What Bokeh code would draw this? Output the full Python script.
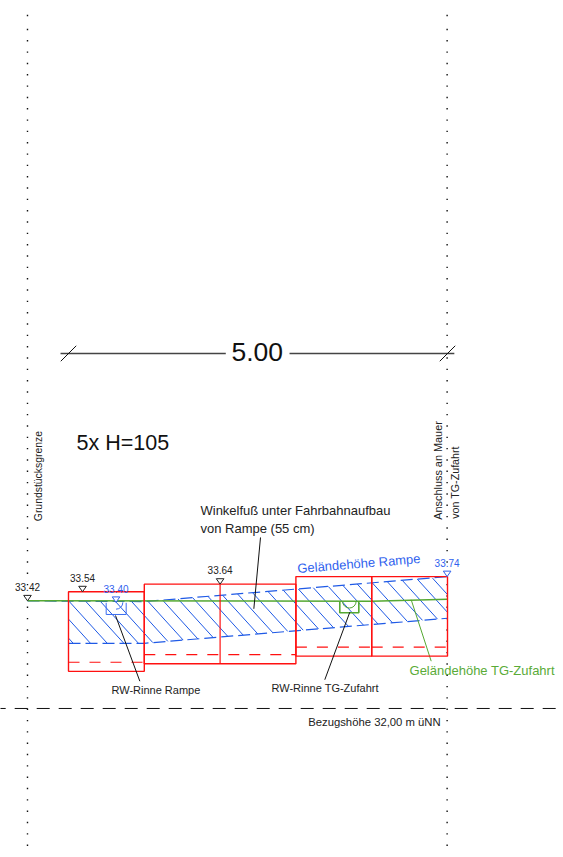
import numpy as np
from bokeh.plotting import figure
from bokeh.models import Range1d, ColumnDataSource
from bokeh.core.properties import value
from bokeh.embed import file_html
from bokeh.resources import INLINE

# --- values: x in metres from the start of the ramp, y in metres of elevation (uNN)
box_left = [0.0, 1.0, 3.0, 4.0]
box_right = [1.0, 3.0, 4.0, 5.0]
box_top = [33.54, 33.64, 33.74, 33.74]
box_bottom = [32.49, 32.59, 32.69, 32.69]
box_dashed = [32.61, 32.71, 32.81, 32.81]
mid_post_x = [2.0, 2.0]
mid_post_y = [33.64, 32.59]

ramp_top_x = [-0.54, 1.0, 5.0]
ramp_top_y = [33.42, 33.41, 33.74]
ramp_bottom_x = [0.0, 1.0, 5.0]
ramp_bottom_y = [32.86, 32.86, 33.19]
access_x = [-0.54, 4.0, 5.0]
access_y = [33.42, 33.415, 33.44]

hatch_feet = [0.062, 0.290, 0.511, 0.730, 0.923, 1.112, 1.310, 1.513, 1.706, 1.909,
              2.102, 2.305, 2.497, 2.695, 2.893, 3.096, 3.298, 3.496, 3.694, 3.892,
              4.083, 4.274, 4.472, 4.670, 4.868, 5.066, 5.264, 5.462]

level_x = [-0.541, 0.185, 0.627, 2.0, 4.995]
level_y = [33.42, 33.54, 33.40, 33.64, 33.74]
level_colors = ["#222222", "#222222", "#2f62ee", "#222222", "#2f62ee"]

grid_x = [-0.541, 4.995]
datum_y = 32.0
dim_y = 36.683
dim_x = [0.0, 5.0]

notes = ["5.00", "5x H=105", "Winkelfuß unter Fahrbahnaufbau", "von Rampe (55 cm)",
         "RW-Rinne Rampe", "RW-Rinne TG-Zufahrt", "Bezugshöhe 32,00 m üNN",
         "Geländehöhe TG-Zufahrt", "Geländehöhe Rampe", "Grundstücksgrenze",
         "Anschluss an Mauer", "von TG-Zufahrt"]
note_x = [2.15, 0.106, 1.741, 1.741, 0.567, 2.678, 3.162, 4.499, 3.025, -0.336, 4.938, 5.158]
note_y = [36.569, 35.394, 34.546, 34.305, 32.185, 32.215, 31.763, 32.435, 33.777, 34.471, 34.489, 34.503]
note_px = [26.5, 21.5, 13, 13, 11, 11, 11.3, 13, 13, 10.4, 10.9, 10.7]
note_angle = [0, 0, 0, 0, 0, 0, 0, 0, 4.7, 90, 90, 90]
note_color = ["#111111", "#111111", "#222222", "#222222", "#222222", "#222222", "#222222",
              "#5aab38", "#2f62ee", "#222222", "#222222", "#222222"]

leader_x0 = [0.620, 2.533, 3.711]
leader_y0 = [33.227, 34.256, 33.27]
leader_x1 = [0.941, 2.445, 3.381]
leader_y1 = [32.36, 33.315, 32.379]

RED = "#ff1010"
BLUE = "#1f5ae6"
GREEN = "#55a832"
BLACK = "#111111"
BASELINE_SHIFT = 0.4  # em

p = figure(width=563, height=857, output_backend="svg", toolbar_location=None,
           x_range=Range1d(-0.8971, 6.5303), y_range=Range1d(30.034, 41.340),
           min_border=0, outline_line_color=None, background_fill_color="white",
           border_fill_color="white")
p.axis.visible = False
p.grid.visible = False

# dotted boundary lines
dot_levels = [40.958 - 0.14947 * k for k in range(73)] + [41.143]
for gx in grid_x:
    p.scatter([gx] * len(dot_levels), dot_levels, marker="square", size=1.4,
              fill_color="#111111", line_color=None)

# datum
p.line([-1, 7], [datum_y, datum_y], line_color=BLACK, line_width=1, line_dash="13 9")

# hatching of the wedge


def top_of(x):
    return np.interp(x, ramp_top_x, ramp_top_y)


hx0, hy0, hx1, hy1 = [], [], [], []
slope = -1.1
for xb in hatch_feet:
    yb = np.interp(xb, ramp_bottom_x, ramp_bottom_y)
    if xb > 5:
        yb = ramp_bottom_y[-1] + (xb - 5) * (ramp_bottom_y[-1] - ramp_bottom_y[-2]) / 4
    xs = np.linspace(-0.6, xb, 1500)
    ys = yb + slope * (xs - xb)
    inside = ys <= top_of(xs)
    xa = max(xs[inside][0], 0.0)
    xe = min(xb, 5.0)
    hx0.append(xa)
    hy0.append(yb + slope * (xa - xb))
    hx1.append(xe)
    hy1.append(yb + slope * (xe - xb))
p.segment(hx0, hy0, hx1, hy1, line_color=BLUE, line_width=1)

p.line(ramp_top_x, ramp_top_y, line_color=BLUE, line_width=1.2, line_dash="12 5")
p.line(ramp_bottom_x, ramp_bottom_y, line_color=BLUE, line_width=1.2, line_dash="12 5")

# gutters
p.multi_line([[0.497, 0.497, 0.761, 0.761]], [[33.394, 33.24, 33.24, 33.394]],
             line_color="#3a6cf0", line_width=1)
p.arc([0.627], [33.40], radius=0.09, start_angle=1.5 * np.pi, end_angle=2 * np.pi,
      direction="anticlock", line_color="#3a6cf0", line_width=1)

# access road level
p.line(access_x, access_y, line_color=GREEN, line_width=1.5)
p.multi_line([[3.579, 3.579, 3.83, 3.83]], [[33.415, 33.262, 33.262, 33.415]],
             line_color=GREEN, line_width=1.6)
p.arc([3.705], [33.415], radius=0.09, start_angle=np.pi, end_angle=2 * np.pi,
      direction="anticlock", line_color=GREEN, line_width=1)
p.line([4.521, 4.785], [33.434, 32.624], line_color=GREEN, line_width=1)

# steps
p.quad(left=box_left, right=box_right, top=box_top, bottom=box_bottom,
       fill_color=None, line_color=RED, line_width=1.4)
p.line(mid_post_x, mid_post_y, line_color=RED, line_width=1.2)
for i in range(len(box_left)):
    p.line([box_left[i], box_right[i]], [box_dashed[i], box_dashed[i]],
           line_color=RED, line_width=1.1, line_dash="11 10")

# leaders
p.segment(leader_x0, leader_y0, leader_x1, leader_y1, line_color=BLACK, line_width=1)

# dimension line
for a, b in [(dim_x[0] - 0.105, 2.075), (2.916, dim_x[1] + 0.09)]:
    p.line([a, b], [dim_y, dim_y], line_color="#444444", line_width=1.6)
for dx in dim_x:
    p.line([dx - 0.102, dx + 0.102], [dim_y - 0.102, dim_y + 0.102],
           line_color=BLACK, line_width=1)

# level markers
p.patches([[x - 0.05, x + 0.05, x] for x in level_x],
          [[y + 0.072, y + 0.072, y] for y in level_y],
          fill_color="white", line_color=level_colors, line_width=1)
p.text(level_x, [y + 0.13 for y in level_y], text=[f"{y:.2f}" for y in level_y],
       text_font=value("Liberation Sans"), text_font_size="10px", y_offset=-10 * BASELINE_SHIFT,
       text_align="center", text_baseline="alphabetic", text_color=level_colors)

# notes
angles = np.radians(note_angle)
shift = BASELINE_SHIFT * np.array(note_px)
src = ColumnDataSource(dict(x=note_x, y=note_y, t=notes, s=[f"{v}px" for v in note_px],
                            a=angles, c=note_color,
                            ox=-shift * np.sin(angles), oy=-shift * np.cos(angles)))
p.text("x", "y", text="t", source=src, text_font=value("Liberation Sans"),
       text_font_size="s", angle="a", x_offset="ox", y_offset="oy",
       text_color="c", text_align="left", text_baseline="alphabetic")

open("out.html", "w").write(file_html(p, INLINE))
